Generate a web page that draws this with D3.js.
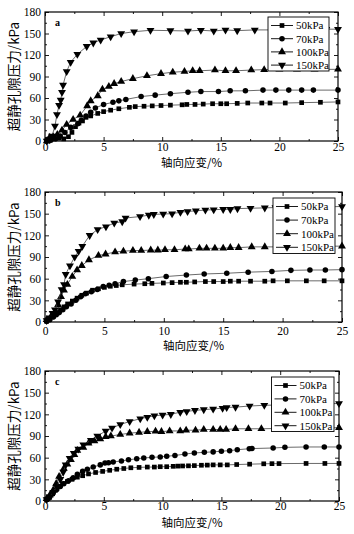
<!DOCTYPE html>
<html>
<head>
<meta charset="utf-8">
<script src="https://cdn.jsdelivr.net/npm/d3@7"></script>
<style>
  body { margin: 0; background: #fff; }
  text { font-family: "Liberation Serif", "DejaVu Serif", serif; }
  .cjk { font-family: "Noto Sans CJK SC", sans-serif; }
</style>
</head>
<body>
<svg id="chart"></svg>
<script>
const seriesNames = ["50kPa", "70kPa", "100kPa", "150kPa"];
const xTicks = [0, 5, 10, 15, 20, 25];
const yTicks = [0, 30, 60, 90, 120, 150, 180];
const xTitle = "轴向应变/%";
const yTitle = "超静孔隙压力/kPa";

// panel a  [strain %, pore pressure kPa]
const a50 = [[0.15,0],[0.4,3],[0.8,3],[1.2,4],[1.6,3],[2.0,6],[2.3,12],[2.6,20],[2.9,25],[3.2,28],[3.5,33],[3.9,35],[4.5,38.5],[5.0,41],[5.6,43],[6.3,45],[7.2,47],[7.7,48],[8.45,48.5],[9.15,49],[9.9,49.5],[10.7,50],[11.7,50.5],[12.1,51],[12.8,51],[13.5,51.5],[14.3,52],[15.0,52],[15.5,52],[16.4,52.5],[17.3,53],[18.5,53],[19.2,53],[20.5,53],[21.9,53.5],[23.5,54],[25,54.5]];
const a70 = [[0.15,0],[0.5,1],[0.9,3],[1.3,7],[1.7,12],[2.2,19],[2.8,24],[3.1,29],[3.5,35],[3.9,40],[4.3,46],[5.0,51],[5.8,54],[6.3,56],[6.9,58],[8.2,62],[9.4,64],[10.7,66],[12.2,68],[13.3,69],[14.8,69],[15.8,70],[17.1,70],[18.6,71],[19.7,71],[20.8,71],[21.9,71],[22.9,71],[25,71]];
const a100 = [[0.15,0],[0.4,5],[0.7,6],[1.05,9],[1.45,15],[1.85,23],[2.4,30],[3.0,36],[3.6,49],[3.9,56],[4.5,63],[4.9,72],[5.45,76],[5.9,80],[6.5,83],[7.5,87],[8.7,91],[9.9,94],[10.9,96],[11.9,97],[12.6,98],[13.2,98],[14.5,99],[15.4,98],[16.3,98],[17.6,99],[18.7,99.5],[20,100],[21.5,100],[23,100],[25,100]];
const a150 = [[0.15,0],[0.4,2],[0.6,7],[0.85,21],[1.02,37],[1.2,50],[1.34,57],[1.45,68],[1.54,78],[1.85,97],[2.19,110],[2.76,121],[3.56,132],[4.12,137],[4.75,141],[5.6,145.5],[6.5,150],[7.6,152.5],[9.0,154.5],[10.7,154],[12.2,153.5],[13.3,154.5],[14.4,153.5],[15.4,155],[16.4,154],[17.9,155],[19.5,155],[21,155.5],[22.5,156],[24,156],[25,156]];

// panel b
const b50 = [[0.14,1],[0.4,4],[0.7,8],[1.0,13],[1.3,17],[1.6,21],[1.9,25],[2.3,29],[2.7,33],[3.1,37],[3.5,40],[4.0,44],[4.5,46],[5.0,48],[5.5,49.5],[6.0,50.5],[6.5,51.5],[7.5,52.5],[8.4,53],[9.0,53.5],[9.96,54],[10.7,54.5],[11.4,55],[11.9,55],[12.6,55.5],[13.5,56],[14.2,56],[15.0,56],[15.6,56.5],[16.3,56.5],[17.3,56.5],[18.5,56.5],[19.2,57],[20.4,57],[22.0,57],[23.5,57],[25,57]];
const b70 = [[0.14,1],[0.4,3],[0.7,7],[0.95,10],[1.2,13],[1.5,17],[1.8,21],[2.2,25],[2.6,30],[3.0,35],[3.4,39],[3.9,42],[4.4,45],[4.9,49],[5.4,51],[5.9,53],[6.6,56],[7.6,58],[8.7,60],[10.2,63],[11.9,65],[13.4,66.5],[15.3,67.5],[17.1,69],[19.1,70],[20.7,71.5],[22.3,72],[23.6,72],[25,72.5]];
const b100 = [[0.14,3],[0.48,7],[0.84,14],[1.1,24],[1.35,35],[1.6,44],[1.88,52],[2.3,63],[2.7,72],[3.1,78],[3.7,86],[4.5,92],[5.1,94],[5.9,97],[6.6,98],[7.4,99],[8.1,99],[8.9,99.5],[9.5,99.5],[10.1,100],[10.9,100],[11.8,101],[12.1,101],[13.0,102],[13.6,102],[14.3,102],[15.0,102],[15.6,103],[16.3,103],[17.4,104],[18.5,104],[20,104],[21.5,104.5],[23,105],[25,105]];
const b150 = [[0.14,2],[0.42,6],[0.64,12],[0.84,17],[1.1,28],[1.4,45],[1.6,52],[1.74,66],[2.1,78],[2.5,90],[2.83,98],[3.14,105],[3.76,120],[4.43,128],[5.13,132],[5.83,137],[6.5,139],[6.78,144],[8.0,146],[8.74,148],[9.16,149],[9.95,149.5],[10.7,150],[11.4,152],[12.0,153],[12.7,154],[13.5,155],[14.2,155.5],[15.0,156],[15.6,156],[16.2,157],[17.3,157.5],[18.5,158],[19.4,158.5],[21,159],[22.5,159],[24,159.5],[25,160]];

// panel c
const c50 = [[0.14,2],[0.4,5],[0.65,10],[0.9,15],[1.2,20],[1.5,24],[1.9,27],[2.3,30],[2.75,33],[3.2,35],[3.7,37.5],[4.3,39.5],[4.9,41],[5.5,42.5],[6.1,44],[6.7,45],[7.3,46],[8.0,46.5],[8.7,47],[9.3,47],[9.8,47.5],[10.35,47.5],[10.9,48],[11.3,48.3],[11.7,48.5],[12.2,48.7],[12.7,49],[13.3,49.5],[13.8,49.7],[14.3,50],[14.9,50],[15.5,50],[16.3,50.5],[17.4,51],[18.6,51.5],[19.3,51.7],[19.9,51.8],[22.2,52],[23.8,52],[25,52]];
const c70 = [[0.14,2],[0.4,6],[0.7,11],[1.0,16],[1.3,20],[1.6,24],[2.0,28],[2.4,32],[2.75,37],[3.2,41],[3.6,44],[4.1,47],[4.7,50],[5.1,52.5],[5.4,53],[5.8,54],[6.5,55.5],[7.1,57],[7.8,58.5],[8.4,59.5],[9.1,60.5],[9.8,61],[10.35,62],[11.05,63],[11.9,65],[12.7,66.5],[13.55,67.4],[14.3,68],[15.0,69],[15.7,69.7],[16.35,71],[17.37,72.4],[17.6,72.6],[19.4,73.4],[20.4,74.3],[22.2,74.8],[23.75,74.8],[25,74.8]];
const c100 = [[0.14,3],[0.4,8],[0.7,15],[0.95,24],[1.2,34],[1.6,45],[1.9,51],[2.2,57],[2.5,64],[2.75,70],[3.26,74],[3.7,80],[4.2,83],[4.7,86],[5.16,89],[5.6,90],[6.4,92],[7.2,94],[8.0,95],[8.7,96],[9.4,96.5],[9.9,96],[10.6,97],[11.5,97],[12.0,98],[12.8,98],[13.5,99],[14.3,99],[14.9,99],[15.4,99],[16.2,100],[17.3,100],[18.4,100],[20,100.5],[21.5,101],[23,101],[25,101.5]];
const c150 = [[0.14,2],[0.4,6],[0.7,12],[1.0,20],[1.3,30],[1.55,40],[1.76,50],[2.1,59],[2.45,66],[2.83,72],[3.26,78],[3.9,84],[4.45,90],[5.16,97],[5.7,101],[6.4,106],[7.2,110],[8.1,114],[8.7,116],[9.3,118],[10.0,119],[10.7,120],[11.5,123],[12.05,124],[12.75,125.5],[13.5,126.5],[14.3,127.5],[15.1,128.5],[15.45,129.5],[16.2,130],[17.4,131.5],[18.65,132.5],[20,133],[21.5,134],[23,134.5],[25,135]];

let svg = d3.select("#chart").attr("width", 354).attr("height", 534);

let panels = [
  {letter: "a", l: 45, r: 338, t: 12, b: 141, pad: 2, titleY: 167, data: [a50, a70, a100, a150],
   legend: {l: 268, r: 329, t: 17, b: 71, y0: 25.5, dy: 13.2}},
  {letter: "b", l: 45, r: 342, t: 192, b: 322, pad: 5, titleY: 350, data: [b50, b70, b100, b150],
   legend: {l: 273, r: 335, t: 198, b: 253.5, y0: 206.5, dy: 13.6}},
  {letter: "c", l: 45, r: 339, t: 371, b: 501, pad: 1, titleY: 527, data: [c50, c70, c100, c150],
   legend: {l: 271.5, r: 334, t: 377, b: 431.5, y0: 385.5, dy: 13.4}}
];

let symbols = [
  d3.symbol().type(d3.symbolSquare).size(22),
  d3.symbol().type(d3.symbolCircle).size(24),
  d3.symbol().type(d3.symbolTriangle).size(27),
  d3.symbol().type(d3.symbolTriangle).size(27)
];

function marker(g, i, px, py) {
  g.append("path")
    .attr("d", symbols[i]())
    .attr("transform", "translate(" + px + "," + py + ")" + (i == 3 ? " rotate(180)" : ""))
    .attr("fill", "#000");
}

function drawPanel(p) {
  let x = d3.scaleLinear().domain([0, 25]).range([p.l, p.r]);
  let y = d3.scaleLinear().domain([0, 180]).range([p.b, p.t]);
  let g = svg.append("g");

  let minorX = d3.range(0, 25.1, 2.5).filter(v => v % 5 != 0);
  let minorY = d3.range(0, 181, 15).filter(v => v % 30 != 0);

  // axes: ticks point inward on all four sides
  function axis(fn, scale, vals, size, tx, ty, labels, pad) {
    let a = g.append("g").attr("transform", "translate(" + tx + "," + ty + ")")
      .call(fn(scale).tickValues(vals).tickSize(-size).tickPadding(pad || 3)
        .tickFormat(labels ? d3.format("d") : ""));
    a.select(".domain").remove();
    a.selectAll("line").attr("stroke", "#000").attr("stroke-width", 0.9);
    a.selectAll("text").attr("font-size", 11.5).attr("fill", "#000")
      .attr("font-family", "Liberation Serif");
    return a;
  }
  axis(d3.axisBottom, x, xTicks, 4, 0, p.b, true, p.pad);
  axis(d3.axisBottom, x, minorX, 2, 0, p.b, false);
  axis(d3.axisTop, x, xTicks, 4, 0, p.t, false);
  axis(d3.axisTop, x, minorX, 2, 0, p.t, false);
  axis(d3.axisLeft, y, yTicks, 4, p.l, 0, true, 4);
  axis(d3.axisLeft, y, minorY, 2, p.l, 0, false);
  axis(d3.axisRight, y, yTicks, 4, p.r, 0, false);
  axis(d3.axisRight, y, minorY, 2, p.r, 0, false);

  g.append("rect")
    .attr("x", p.l).attr("y", p.t)
    .attr("width", p.r - p.l).attr("height", p.b - p.t)
    .attr("fill", "none").attr("stroke", "#000").attr("stroke-width", 1.2);

  // curves
  let line = d3.line().x(d => x(d[0])).y(d => y(d[1]));
  p.data.forEach(function(s, i) {
    g.append("path").datum(s).attr("d", line)
      .attr("fill", "none").attr("stroke", "#444").attr("stroke-width", 0.8);
    s.forEach(d => marker(g, i, x(d[0]), y(d[1])));
  });

  // legend
  let L = p.legend;
  g.append("rect")
    .attr("x", L.l).attr("y", L.t)
    .attr("width", L.r - L.l).attr("height", L.b - L.t)
    .attr("fill", "#fff").attr("stroke", "#000").attr("stroke-width", 0.9);
  seriesNames.forEach(function(name, i) {
    let ly = L.y0 + i * L.dy;
    g.append("line")
      .attr("x1", L.l + 3).attr("x2", L.l + 25)
      .attr("y1", ly).attr("y2", ly)
      .attr("stroke", "#000").attr("stroke-width", 0.9);
    marker(g, i, L.l + 14, ly);
    g.append("text")
      .attr("x", L.l + 28).attr("y", ly)
      .attr("dy", "0.35em")
      .attr("font-size", 11)
      .text(name);
  });

  // panel letter
  g.append("text")
    .attr("x", p.l + 10).attr("y", p.t + 14)
    .attr("font-size", 10).attr("font-weight", "bold")
    .text(p.letter);

  // axis titles
  g.append("text").attr("class", "cjk")
    .attr("x", (p.l + p.r) / 2).attr("y", p.titleY)
    .attr("text-anchor", "middle").attr("font-size", 11.5)
    .text(xTitle);
  g.append("text").attr("class", "cjk")
    .attr("transform", "translate(19," + ((p.t + p.b) / 2) + ") rotate(-90)")
    .attr("text-anchor", "middle").attr("font-size", 13.5)
    .text(yTitle);
}

panels.forEach(drawPanel);
</script>
</body>
</html>
